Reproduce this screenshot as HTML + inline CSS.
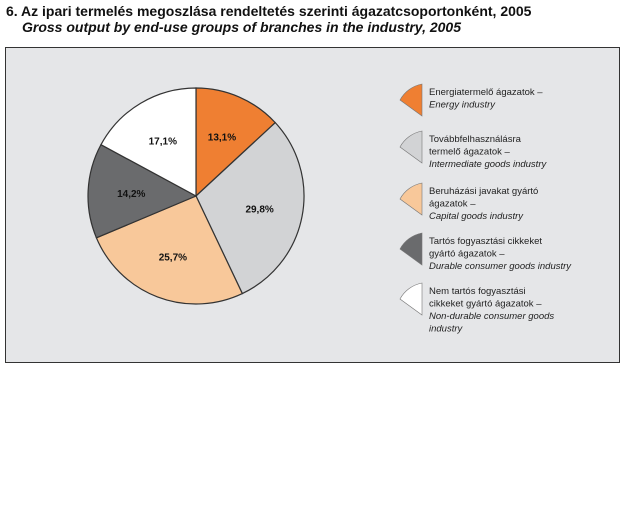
<!DOCTYPE html>
<html><head><meta charset="utf-8"><style>
body{margin:0;width:626px;height:520px;background:#fff;overflow:hidden;font-family:"Liberation Sans",sans-serif}
.t{position:absolute;left:6px;font-weight:bold;font-size:14px;color:#111}
</style></head><body>
<div class="t" style="top:3px">6. Az ipari termelés megoszlása rendeltetés szerinti ágazatcsoportonként, 2005</div>
<div class="t" style="top:19px;left:22px;font-style:italic">Gross output by end-use groups of branches in the industry, 2005</div>
<svg width="626" height="520" style="position:absolute;left:0;top:0">
<rect x="5.5" y="47.5" width="614" height="315" fill="#e5e6e8" stroke="#333"/>
<g id="pie"></g><g id="leg"></g>
</svg>
<script>
const labels=["Energiatermelő ágazatok – Energy industry","Továbbfelhasználásra termelő ágazatok – Intermediate goods industry","Beruházási javakat gyártó ágazatok – Capital goods industry","Tartós fogyasztási cikkeket gyártó ágazatok – Durable consumer goods industry","Nem tartós fogyasztási cikkeket gyártó ágazatok – Non-durable consumer goods industry"];
const values=[13.1,29.8,25.7,14.2,17.1];
const colors=["#ef7f32","#d2d3d5","#f8c89a","#6a6b6d","#ffffff"];
const legendLines=[["Energiatermelő ágazatok –","<i>Energy industry</i>"],["Továbbfelhasználásra"," termelő ágazatok –","<i> Intermediate goods industry</i>"],["Beruházási javakat gyártó","ágazatok –","<i>Capital goods industry</i>"],["Tartós fogyasztási cikkeket","gyártó ágazatok –","<i>Durable consumer goods industry</i>"],["Nem tartós fogyasztási","cikkeket gyártó ágazatok –","<i>Non-durable consumer goods</i>","<i>industry</i>"]];
const NS="http://www.w3.org/2000/svg";
const cx=196,cy=196,r=108;
const total=values.reduce((a,b)=>a+b,0);
const pie=document.getElementById('pie');
let a0=0;
function pt(a,rr){return [cx+rr*Math.sin(a),cy-rr*Math.cos(a)];}
values.forEach((v,i)=>{
  const a1=a0+v/total*2*Math.PI;
  const p0=pt(a0,r),p1=pt(a1,r);
  const p=document.createElementNS(NS,'path');
  p.setAttribute('d',`M${cx},${cy}L${p0[0]},${p0[1]}A${r},${r} 0 ${a1-a0>Math.PI?1:0} 1 ${p1[0]},${p1[1]}Z`);
  p.setAttribute('fill',colors[i]);p.setAttribute('stroke','#333');p.setAttribute('stroke-width','1.2');
  
  
  pie.appendChild(p);
  const m=pt((a0+a1)/2,r*0.6);
  const t=document.createElementNS(NS,'text');
  t.setAttribute('x',m[0]);t.setAttribute('y',m[1]+4);t.setAttribute('text-anchor','middle');
  t.setAttribute('font-size','10');t.setAttribute('font-weight','bold');t.setAttribute('fill','#111');
  t.textContent=v.toFixed(1).replace('.',',')+'%';
  
  
  pie.appendChild(t);
  a0=a1;
});
const leg=document.getElementById('leg');
const tops=[84,131,183,233,283];
legendLines.forEach((ls,i)=>{
  const y=tops[i],R=32,x0=422;
  const g=document.createElementNS(NS,'g');
  
  
  const p=document.createElementNS(NS,'path');
  p.setAttribute('d',`M${x0},${y}L${x0},${y+R}L${x0-22},${y+R*0.5}A${R},${R} 0 0 1 ${x0},${y}Z`);
  p.setAttribute('fill',colors[i]);p.setAttribute('stroke','#777');p.setAttribute('stroke-width','0.6');
  
  
  g.appendChild(p);
  ls.forEach((l,j)=>{
    const t=document.createElementNS(NS,'text');
    t.setAttribute('x',429);t.setAttribute('y',y+11+j*12.5);t.setAttribute('font-size','9.5');t.setAttribute('fill','#222');
    if(l.startsWith('<i>')){t.setAttribute('font-style','italic');l=l.replace(/<\/?i>/g,'');}
    t.setAttribute('xml:space','preserve');
    t.textContent=l;
    
    
    g.appendChild(t);
  });
  leg.appendChild(g);
});
</script>
</body></html>
